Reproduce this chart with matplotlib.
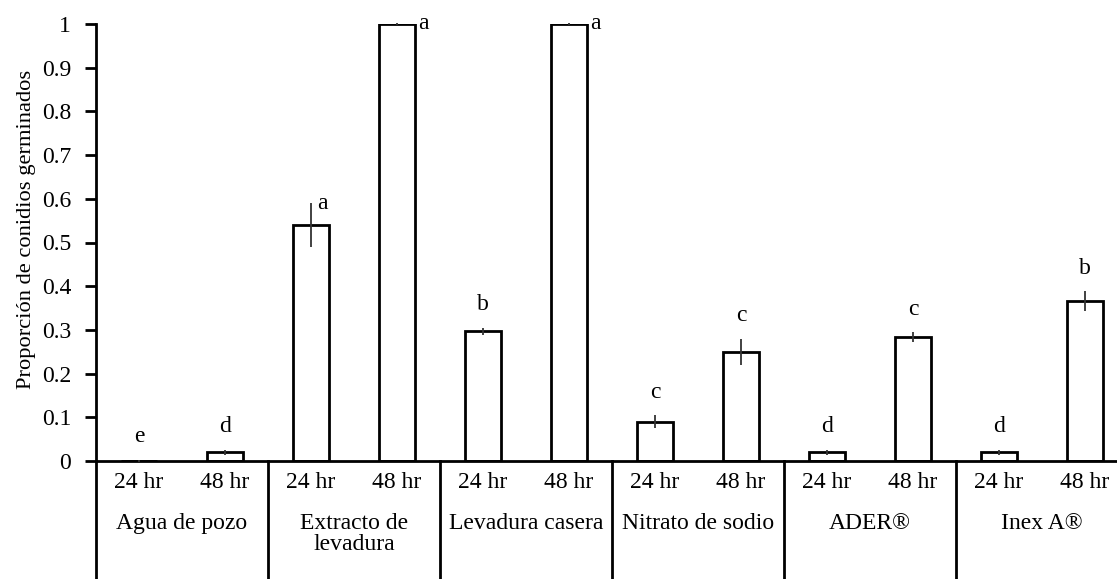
import matplotlib.pyplot as plt
import numpy as np

plt.rcParams['font.family'] = ['Liberation Serif', 'DejaVu Serif']

# datos
grupos = ["Agua de pozo", "Extracto de\nlevadura", "Levadura casera",
          "Nitrato de sodio", "ADER®", "Inex A®"]
tiempos = ["24 hr", "48 hr"]
valores = [0.0, 0.02, 0.54, 1.0, 0.297, 1.0, 0.09, 0.25, 0.02, 0.284, 0.02, 0.366]
errores = [0.003, 0.006, 0.05, 0.002, 0.008, 0.002, 0.015, 0.03, 0.006, 0.011, 0.006, 0.022]
letras = ["e", "d", "a", "a", "b", "a", "c", "c", "d", "c", "d", "b"]

fs = 17

fig = plt.figure(figsize=(11.17, 5.79), dpi=100)
ax = fig.add_axes([96/1117, 118/579, 1032/1117, 437/579])

x = np.arange(len(valores))
ax.bar(x, valores, width=0.41, color='white', edgecolor='black', linewidth=2.0, zorder=2)
ax.errorbar(x, valores, yerr=errores, fmt='none', ecolor='#333333', elinewidth=1.3,
            capsize=0, zorder=3, clip_on=False)

# letras de significancia
for xi, v, e, l in zip(x, valores, errores, letras):
    if v + e > 0.5:
        dx = 0.24 if v >= 0.99 else 0.07
        ax.text(xi + dx, v + e, l, ha='left', va='center', fontsize=fs)
    else:
        ax.text(xi, v + e + 0.052, l, ha='center', va='center', fontsize=fs)

ax.set_xlim(-0.5, len(valores) - 0.5)
ax.set_ylim(0, 1)
ax.set_yticks(np.arange(0, 1.01, 0.1))
ax.set_yticklabels(["0"] + ["%.1f" % t for t in np.arange(0.1, 0.95, 0.1)] + ["1"])
ax.tick_params(axis='y', direction='out', length=8, width=2, labelsize=fs, pad=10)

ax.set_xticks(x)
ax.set_xticklabels(tiempos * len(grupos))
ax.tick_params(axis='x', length=0, labelsize=fs, pad=8)

for s in ['top', 'right']:
    ax.spines[s].set_visible(False)
ax.spines['left'].set_linewidth(2)
ax.spines['bottom'].set_linewidth(2)

ax.set_ylabel("Proporción de conidios germinados", fontsize=16.2)
ax.yaxis.set_label_coords(-0.058, 0.53)

# separadores y nombres de grupos bajo el eje
tr = ax.get_xaxis_transform()
for k in range(len(grupos) + 1):
    xs = 2 * k - 0.5
    ax.plot([xs, xs], [0, -0.4], color='black', lw=2, transform=tr, clip_on=False)
for k, g in enumerate(grupos):
    ax.text(2 * k + 0.5, -0.118, g, transform=tr, ha='center', va='top',
            fontsize=fs, linespacing=1.05)

fig.savefig("out.png", dpi=100)
